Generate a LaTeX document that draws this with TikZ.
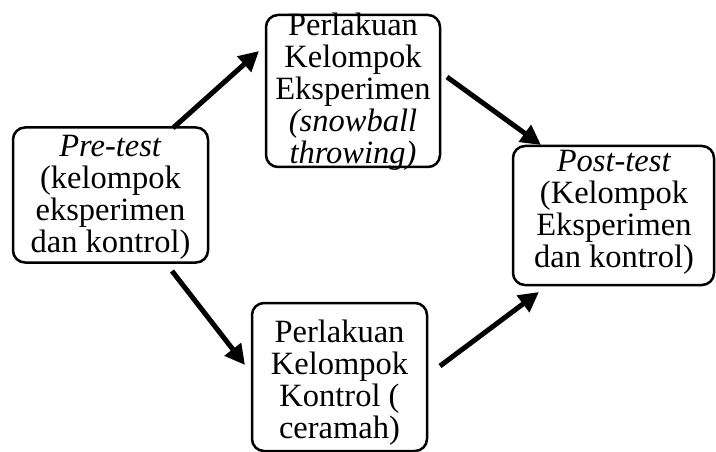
\documentclass[tikz,border=0pt]{standalone}
\usepackage{fontspec}
\setmainfont{Liberation Serif}
\usetikzlibrary{arrows.meta}
\begin{document}
\begin{tikzpicture}[x=1pt,y=-1pt,
  box/.style={draw, line width=2.5pt, rounded corners=12pt, inner sep=0pt},
  txt/.style={anchor=north, align=center, inner sep=0pt, font=\fontsize{32.5}{32}\selectfont},
  arr/.style={line width=5pt, -{Triangle[length=20pt,width=20pt]}}]
\useasboundingbox (0,0) rectangle (716,452);
% boxes
\node[box, minimum width=195pt, minimum height=135pt] (pre) at (110.5,195) {};
\node[box, minimum width=174pt, minimum height=152pt] (eks) at (353,91) {};
\node[box, minimum width=175pt, minimum height=148pt] (kon) at (339.5,377) {};
\node[box, minimum width=201pt, minimum height=139pt] (post) at (613.5,215.5) {};
% texts
\node[txt] (pretxt) at (110.5,135) {\textit{Pre-test}\\(kelompok\\eksperimen\\dan kontrol)};
\node[txt] (ekstxt) at (353,13) {Perlakuan\\Kelompok\\Eksperimen\\\textit{(snowball}\\\textit{throwing)}};
\node[txt] (kontxt) at (339.5,320) {Perlakuan\\Kelompok\\Kontrol (\\ceramah)};
\node[txt] (posttxt) at (614,150) {\textit{Post-test}\\(Kelompok\\Eksperimen\\dan kontrol)};
% connector ends
\coordinate (a1s) at (173,128);
\coordinate (a1e) at (259,51);
\coordinate (a2s) at (447,77);
\coordinate (a2e) at (541,145);
\coordinate (a3s) at (172,271);
\coordinate (a3e) at (245,365);
\coordinate (a4s) at (440,366);
\coordinate (a4e) at (539,292);
\draw[arr] (a1s) -- (a1e);
\draw[arr] (a2s) -- (a2e);
\draw[arr] (a3s) -- (a3e);
\draw[arr] (a4s) -- (a4e);
\end{tikzpicture}
\end{document}
